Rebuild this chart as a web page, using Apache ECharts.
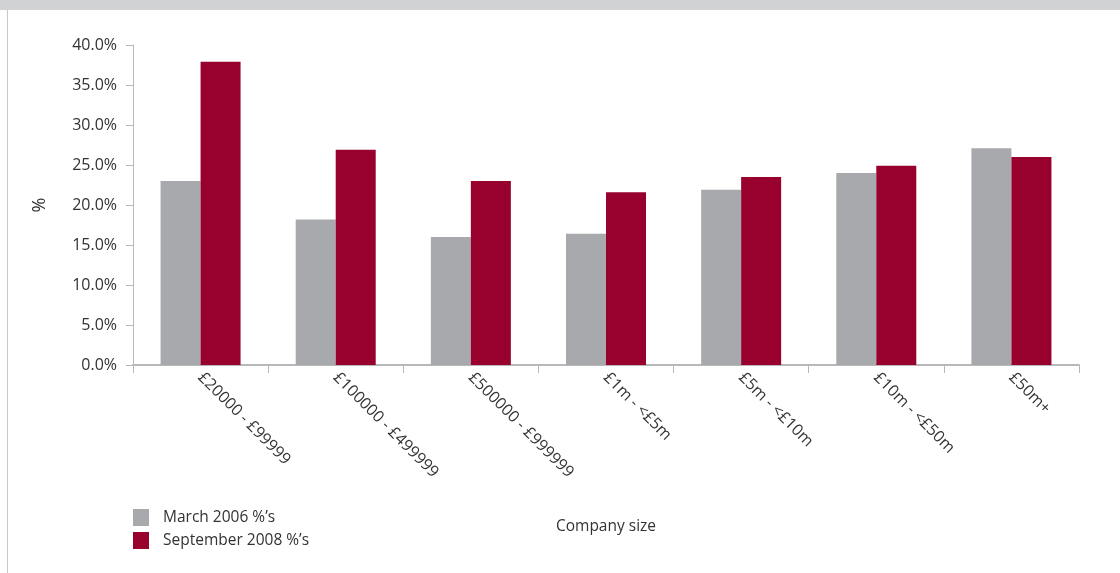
<!DOCTYPE html>
<html>
<head>
<meta charset="utf-8">
<script src="https://cdn.jsdelivr.net/npm/echarts@6/dist/echarts.min.js"></script>
<style>
html,body{margin:0;padding:0;background:#fff;}
#chart{width:1120px;height:573px;}
</style>
</head>
<body>
<div id="chart"></div>
<script>
const categories = ['£20000 - £99999', '£100000 - £499999', '£500000 - £999999', '£1m - <£5m', '£5m - <£10m', '£10m - <£50m', '£50m+'];
const march2006 = [23.0, 18.2, 16.0, 16.4, 21.9, 24.0, 27.1];
const september2008 = [37.9, 26.9, 23.0, 21.6, 23.5, 24.9, 26.0];
const seriesNames = ['March 2006 %\u2019s', 'September 2008 %\u2019s'];
const yTicks = { min: 0, max: 40, interval: 5 };

const FONT = '"Open Sans", "Noto Sans", sans-serif';
const TXT = '#333333';
const AXIS = '#b8b8b8';

const chart = echarts.init(document.getElementById('chart'), null, { renderer: 'canvas' });
chart.setOption({
  animation: false,
  backgroundColor: '#ffffff',
  textStyle: { fontFamily: FONT, color: TXT },
  graphic: [
    { type: 'rect', left: 0, top: 0, shape: { width: 1120, height: 10 }, style: { fill: '#d1d2d4' }, silent: true },
    { type: 'rect', left: 7, top: 10, shape: { width: 1, height: 563 }, style: { fill: '#c8c8c8' }, silent: true }
  ],
  grid: { left: 133, top: 45, right: 41, bottom: 208, containLabel: false },
  legend: {
    orient: 'vertical',
    left: 133,
    top: 509,
    padding: 0,
    itemGap: 6,
    itemWidth: 16,
    itemHeight: 17,
    icon: 'rect',
    textStyle: { fontFamily: FONT, fontSize: 15.5, color: TXT, padding: [0, 0, 0, 9] },
    data: seriesNames
  },
  xAxis: {
    type: 'category',
    data: categories,
    name: 'Company size',
    nameLocation: 'middle',
    nameGap: 154,
    nameTextStyle: { fontFamily: FONT, fontSize: 15.5, color: TXT },
    axisLine: { lineStyle: { color: AXIS, width: 2 } },
    axisTick: { show: true, length: 8, lineStyle: { color: AXIS, width: 1 } },
    axisLabel: { rotate: -45, interval: 0, margin: 10, fontFamily: FONT, fontSize: 16, color: TXT },
    splitLine: { show: false }
  },
  yAxis: {
    type: 'value',
    min: yTicks.min,
    max: yTicks.max,
    interval: yTicks.interval,
    name: '%',
    nameLocation: 'middle',
    nameRotate: 90,
    nameGap: 84,
    nameTextStyle: { fontFamily: FONT, fontSize: 18, color: TXT },
    axisLine: { show: true, lineStyle: { color: AXIS, width: 1 } },
    axisTick: { show: true, length: 7, lineStyle: { color: AXIS, width: 1 } },
    axisLabel: { margin: 16, fontFamily: FONT, fontSize: 16, color: TXT, formatter: v => v.toFixed(1) + '%' },
    splitLine: { show: false }
  },
  series: [
    { name: seriesNames[0], type: 'bar', data: march2006, barWidth: 40, barGap: '0%', itemStyle: { color: '#a8a9ac' } },
    { name: seriesNames[1], type: 'bar', data: september2008, barWidth: 40, barGap: '0%', itemStyle: { color: '#98002e' } }
  ]
});
</script>
</body>
</html>
